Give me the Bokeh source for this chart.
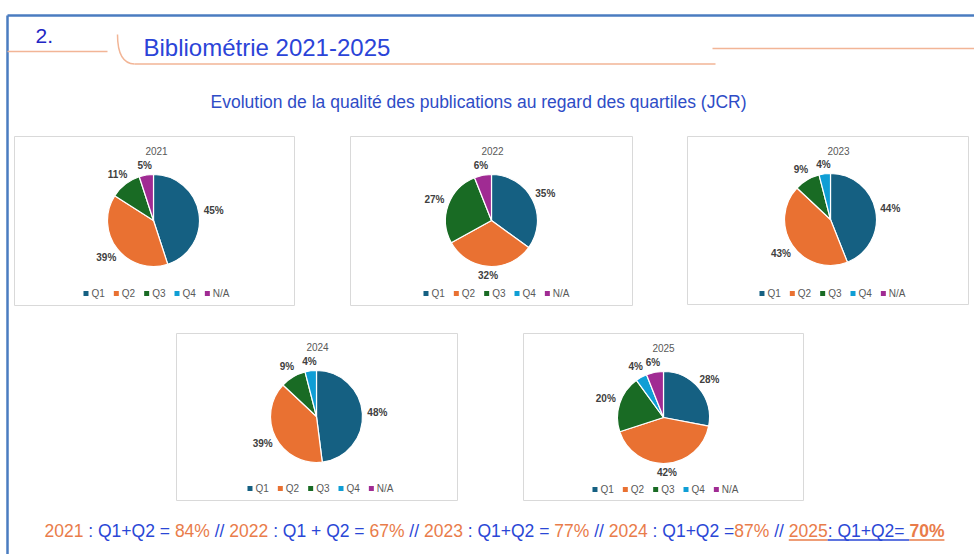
import numpy as np
from bokeh.plotting import figure
from bokeh.models import Range1d
from bokeh.embed import file_html
from bokeh.resources import INLINE
from bokeh.core.properties import value

# ---------------- data ----------------
years = ["2021", "2022", "2023", "2024", "2025"]
categories = ["Q1", "Q2", "Q3", "Q4", "N/A"]
share_2021 = [45, 39, 11, 0, 5]
share_2022 = [35, 32, 27, 0, 6]
share_2023 = [44, 43, 9, 4, 0]
share_2024 = [48, 39, 9, 4, 0]
share_2025 = [28, 42, 20, 4, 6]
shares = [share_2021, share_2022, share_2023, share_2024, share_2025]

summary_years = ["2021", "2022", "2023", "2024", "2025"]
summary_mid = [" : Q1+Q2 = ", " : Q1 + Q2 = ", " : Q1+Q2 = ", " : Q1+Q2 =", ": Q1+Q2= "]
summary_q1q2 = [84, 67, 77, 87, 70]

section_number = "2."
page_title = "Bibliométrie 2021-2025"
subtitle = "Evolution de la qualité des publications au regard des quartiles (JCR)"

# ---------------- styles / layout ----------------
colors = ["#156082", "#E97132", "#196B24", "#0F9ED5", "#A02B93"]
FONT = value("Liberation Sans")
ORANGE = "#E97C4A"
BLUE_TXT = "#2A47D6"

panels = [
    dict(box=(14, 294, 136, 305), c=(153, 220), title_x=156, leg=(156, 293), title_y=150),
    dict(box=(350, 632, 136, 305), c=(491, 220), title_x=492, leg=(496, 293), title_y=150),
    dict(box=(687, 968, 136, 304), c=(830, 219), title_x=838, leg=(832, 293), title_y=150),
    dict(box=(176, 457, 333, 500), c=(316, 416), title_x=317, leg=(320, 488), title_y=346),
    dict(box=(523, 803, 333, 500), c=(663, 417), title_x=663, leg=(665, 489), title_y=347),
]
R = 46

# Arial / Liberation Sans advance widths (1/1000 em)
W = {" ": 278, ":": 278, "Q": 778, "+": 584, "=": 584, "/": 278, "%": 889,
     "N": 722, "A": 667, "-": 333}
for d in "0123456789":
    W[d] = 556


def tw(s, size):
    return sum(W.get(ch, 556) for ch in s) / 1000.0 * size


def Y(y):
    return -y


p = figure(width=974, height=554, x_range=Range1d(0, 974), y_range=Range1d(-554, 0),
           output_backend="svg", toolbar_location=None, x_axis_type=None, y_axis_type=None,
           min_border=0, background_fill_color="white", border_fill_color="white")
p.outline_line_color = None

# ---------------- slide decorations ----------------
p.segment(x0=[7, 7], y0=[Y(15), Y(15)], x1=[980, 7], y1=[Y(15), Y(560)],
          line_color="#4A7CC0", line_width=2.5)
p.segment(x0=[7], y0=[Y(51)], x1=[107], y1=[Y(51)], line_color="#F2B596", line_width=1.5)
p.quadratic(x0=[117], y0=[Y(34)], x1=[134], y1=[Y(63.5)], cx=[117], cy=[Y(63)],
            line_color="#F2B596", line_width=1.5)
p.segment(x0=[134, 712], y0=[Y(63.5), Y(48)], x1=[715, 980], y1=[Y(63.5), Y(48)],
          line_color="#F2B596", line_width=1.5)

p.text(x=[35], y=[Y(35)], text=[section_number], text_font=FONT, text_font_size="21px",
       text_color="#2226C4", text_baseline="middle", text_align="left")
p.text(x=[143], y=[Y(47)], text=[page_title], text_font=FONT, text_font_size="24px",
       text_color="#2B44D8", text_baseline="middle", text_align="left")
p.text(x=[478], y=[Y(101)], text=[subtitle], text_font=FONT, text_font_size="17.5px",
       text_color="#2E4CC6", text_baseline="middle", text_align="center")

# ---------------- pie panels ----------------
for yr, vals, pn in zip(years, shares, panels):
    l, r_, t, b = pn["box"]
    p.quad(left=[l], right=[r_], top=[Y(t)], bottom=[Y(b)], fill_color="white",
           line_color="#D9D9D9", line_width=1)
    p.text(x=[pn["title_x"]], y=[Y(pn["title_y"])], text=[yr], text_font=FONT,
           text_font_size="10px", text_color="#595959", text_align="center",
           text_baseline="middle")
    cx, cy = pn["c"]
    v = np.array(vals, dtype=float)
    frac = v / v.sum()
    cum = np.concatenate([[0], np.cumsum(frac)])
    starts, ends, cols, lx, ly, lt = [], [], [], [], [], []
    for i, f in enumerate(frac):
        if f <= 0:
            continue
        starts.append(np.pi / 2 - 2 * np.pi * cum[i + 1])
        ends.append(np.pi / 2 - 2 * np.pi * cum[i])
        cols.append(colors[i])
        th = 2 * np.pi * (cum[i] + cum[i + 1]) / 2  # from top, clockwise
        dist = R + 9 + 6 * abs(np.sin(th))
        lx.append(cx + dist * np.sin(th))
        ly.append(Y(cy) + dist * np.cos(th))
        lt.append(f"{int(vals[i])}%")
    p.wedge(x=cx, y=Y(cy), radius=R, start_angle=starts, end_angle=ends,
            fill_color=cols, line_color="white", line_width=1.2)
    p.text(x=lx, y=ly, text=lt, text_font=FONT, text_font_size="10px",
           text_font_style="bold", text_color="#404040", text_align="center",
           text_baseline="middle")
    # legend
    sq, gap, sep = 5, 3, 9
    widths = [sq + gap + tw(c, 10) for c in categories]
    total = sum(widths) + sep * (len(categories) - 1)
    lxp = pn["leg"][0] - total / 2
    sx, tx = [], []
    for wdt in widths:
        sx.append(lxp + sq / 2)
        tx.append(lxp + sq + gap)
        lxp += wdt + sep
    ly0 = Y(pn["leg"][1])
    p.scatter(x=sx, y=[ly0] * 5, marker="square", size=5, fill_color=colors,
              line_color=None)
    p.text(x=tx, y=[ly0] * 5, text=categories, text_font=FONT, text_font_size="10px",
           text_color="#595959", text_align="left", text_baseline="middle")

# ---------------- footer summary ----------------
FS = 17.5
segs = []  # (text, color, bold, underline)
for i, (yr, mid, pct) in enumerate(zip(summary_years, summary_mid, summary_q1q2)):
    last = i == len(summary_years) - 1
    segs.append((yr, ORANGE, False, last))
    segs.append((mid, BLUE_TXT, False, last))
    segs.append((f"{pct}%", ORANGE, last, last))
    if not last:
        segs.append((" // ", BLUE_TXT, False, False))

x = 44.0
mid_y = Y(530)
under_y = Y(539.5)
for txt, col, bold, und in segs:
    w = tw(txt, FS)
    lead = len(txt) - len(txt.lstrip(" "))
    shown = txt.strip(" ")
    p.text(x=[x + tw(" " * lead, FS)], y=[mid_y], text=[shown], text_font=FONT,
           text_font_size=f"{FS}px", text_font_style="bold" if bold else "normal",
           text_color=col, text_align="left", text_baseline="middle")
    if und:
        p.segment(x0=[x], y0=[under_y], x1=[x + w], y1=[under_y],
                  line_color=col, line_width=1.3)
    x += w

open("out.html", "w").write(file_html(p, INLINE))
